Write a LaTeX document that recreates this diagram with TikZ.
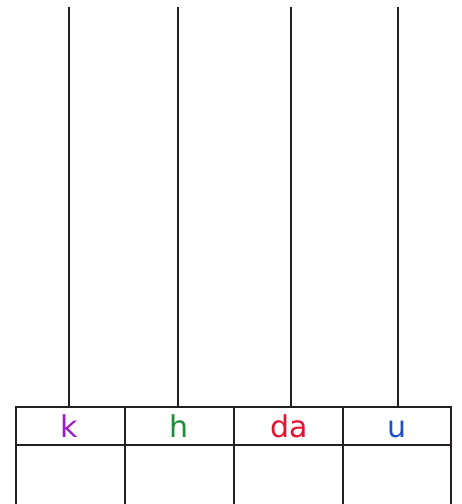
\documentclass[tikz,border=0pt]{standalone}
\usepackage{fontspec}
\setmainfont{DejaVu Sans}
\definecolor{cK}{HTML}{9A1DC2}
\definecolor{cH}{HTML}{1E8B3A}
\definecolor{cDA}{HTML}{E8102E}
\definecolor{cU}{HTML}{1E4FC9}
\definecolor{ink}{HTML}{231F20}
\begin{document}
\begin{tikzpicture}[x=1pt,y=-1pt,
  grid/.style={draw=ink,line width=2pt},
  rod/.style={draw=ink,line width=2pt},
  lab/.style={font=\fontsize{30}{30}\selectfont,inner sep=0pt,anchor=base}]
\useasboundingbox (0,0) rectangle (462,504);
% rods
\coordinate (r1t) at (69,7); \coordinate (r1b) at (69,407);
\coordinate (r2t) at (178,7); \coordinate (r2b) at (178,407);
\coordinate (r3t) at (291,7); \coordinate (r3b) at (291,407);
\coordinate (r4t) at (398,7); \coordinate (r4b) at (398,407);
\draw[rod] (r1t) -- (r1b);
\draw[rod] (r2t) -- (r2b);
\draw[rod] (r3t) -- (r3b);
\draw[rod] (r4t) -- (r4b);
% table
\coordinate (tl) at (15,407); \coordinate (tr) at (452,407);
\coordinate (ml) at (15,445); \coordinate (mr) at (452,445);
\draw[grid] (tl) -- (tr);
\draw[grid] (ml) -- (mr);
\foreach \x/\n in {16/a,125/b,234/c,343/d,451/e}{
  \coordinate (v\n t) at (\x,406);
  \coordinate (v\n b) at (\x,504);
  \draw[grid] (v\n t) -- (v\n b);
}
% labels
\node[lab,text=cK] (k) at (69,437) {k};
\node[lab,text=cH] (h) at (179,437) {h};
\node[lab,text=cDA] (da) at (289,437) {da};
\node[lab,text=cU] (u) at (397,437) {u};
\end{tikzpicture}
\end{document}
